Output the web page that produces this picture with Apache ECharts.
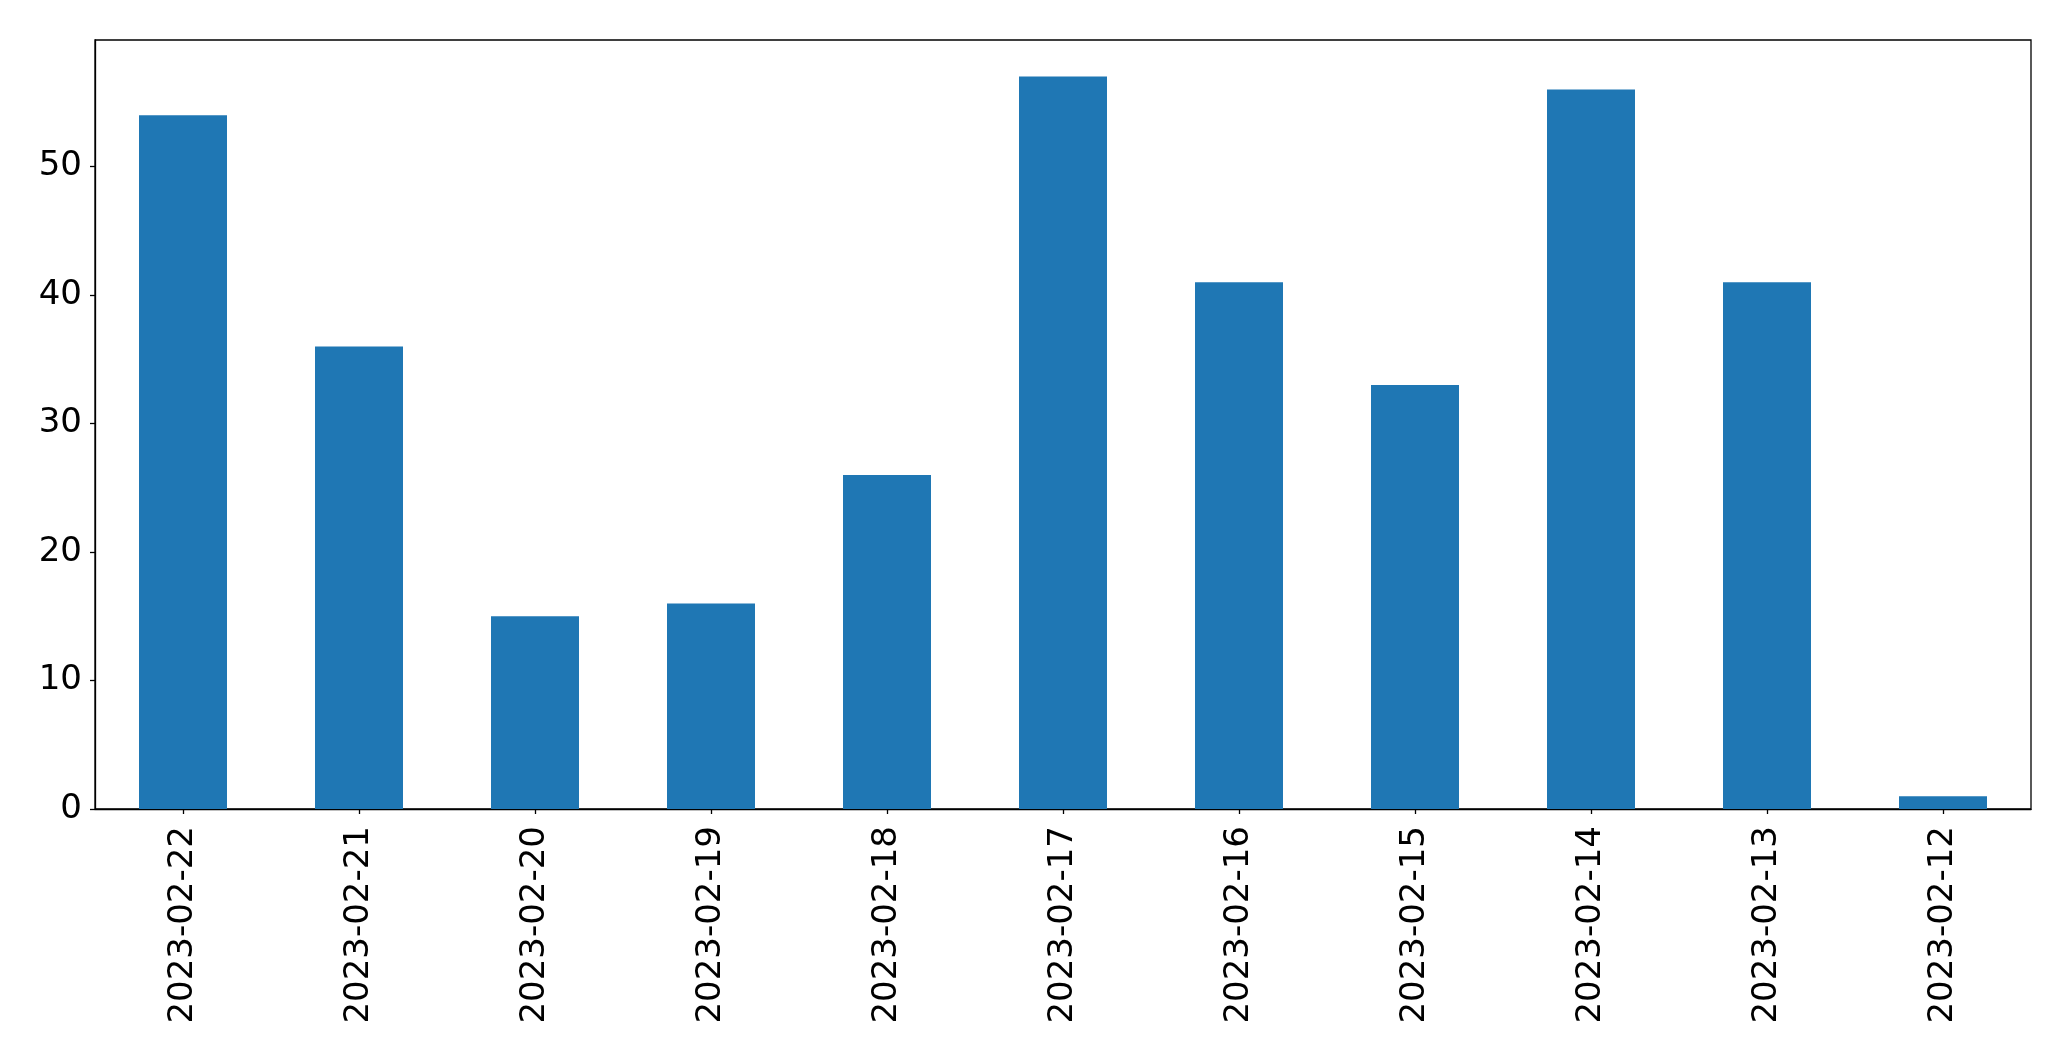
<!DOCTYPE html>
<html>
<head>
<meta charset="utf-8">
<script src="https://cdn.jsdelivr.net/npm/echarts@6/dist/echarts.min.js"></script>
<style>
html,body{margin:0;padding:0;background:#fff;}
#chart{width:2071px;height:1061px;}
</style>
</head>
<body>
<div id="chart"></div>
<script>
const categories = ['2023-02-22','2023-02-21','2023-02-20','2023-02-19','2023-02-18','2023-02-17','2023-02-16','2023-02-15','2023-02-14','2023-02-13','2023-02-12'];
const values = [54, 36, 15, 16, 26, 57, 41, 33, 56, 41, 1];
const yTicks = [0, 10, 20, 30, 40, 50];

const chart = echarts.init(document.getElementById('chart'), null, {renderer:'canvas'});
const font = 'DejaVu Sans';
chart.setOption({
  animation: false,
  backgroundColor: '#fff',
  grid: {left: 95, top: 40, right: 40, bottom: 252, show: true, borderColor: '#000', borderWidth: 1.3, backgroundColor: 'transparent'},
  xAxis: {
    type: 'category',
    data: categories,
    boundaryGap: true,
    axisLine: {show: true, lineStyle: {color: '#000', width: 1.3}},
    axisTick: {show: true, alignWithLabel: true, length: 5, lineStyle: {color: '#000', width: 1.3}},
    axisLabel: {rotate: 90, fontSize: 34, fontFamily: font, color: '#000', margin: 17, interval: 0},
    splitLine: {show: false}
  },
  yAxis: {
    type: 'value',
    min: 0,
    max: 59.85,
    interval: 10,
    axisLine: {show: true, lineStyle: {color: '#000', width: 1.3}},
    axisTick: {show: true, length: 5, lineStyle: {color: '#000', width: 1.3}, customValues: yTicks},
    axisLabel: {fontSize: 34, fontFamily: font, color: '#000', margin: 13, customValues: yTicks},
    splitLine: {show: false}
  },
  series: [{
    type: 'bar',
    data: values,
    barWidth: '50%',
    itemStyle: {color: '#1f77b4'}
  }]
});
</script>
</body>
</html>
